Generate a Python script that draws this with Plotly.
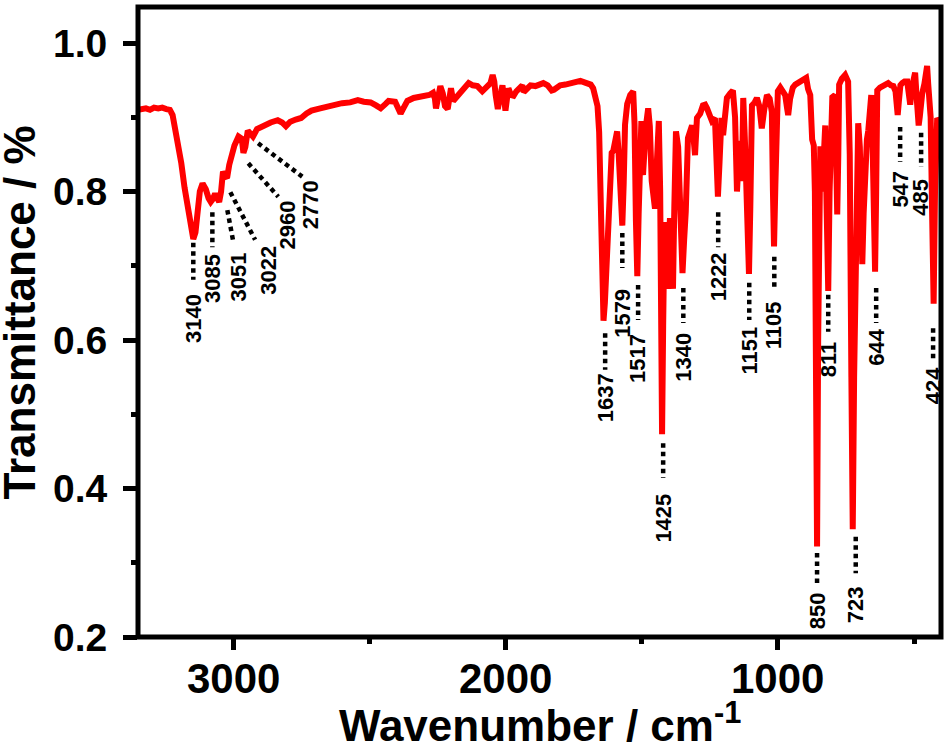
import plotly.graph_objects as go

# ---------------- spectrum (wavenumber in cm-1, transmittance) ----------------
wavenumber = [
    3349, 3335, 3320, 3305, 3290, 3275, 3260, 3245, 3232, 3222, 3212, 3200, 3190, 3178, 3166,
    3155, 3146, 3138, 3130, 3122, 3112, 3100, 3090, 3082, 3074, 3066, 3058, 3051, 3044, 3037,
    3030, 3022, 3014, 3006, 2995, 2980, 2968, 2962, 2955, 2946, 2936, 2927, 2912, 2888, 2862,
    2836, 2820, 2806, 2790, 2770, 2750, 2730, 2712, 2680, 2640, 2600, 2570, 2542, 2520, 2495,
    2475, 2458, 2440, 2429, 2405, 2393, 2385, 2375, 2360, 2337, 2300, 2280, 2266, 2259, 2255,
    2249, 2239, 2230, 2222, 2212, 2205, 2200, 2192, 2180, 2165, 2150, 2135, 2120, 2103, 2085,
    2068, 2055, 2047, 2041, 2036, 2028, 2020, 2011, 2005, 2000, 1994, 1989, 1980, 1970, 1960,
    1950, 1938, 1933, 1920, 1908, 1890, 1875, 1861, 1845, 1830, 1822, 1810, 1799, 1780, 1760,
    1740, 1725, 1710, 1695, 1687, 1678, 1670, 1662, 1656, 1650, 1645, 1640, 1635, 1630, 1625,
    1620, 1615, 1610, 1604, 1597, 1590, 1585, 1580, 1575, 1571, 1566, 1561, 1553, 1542, 1531,
    1526, 1521, 1516, 1511, 1505, 1501, 1495, 1490, 1484, 1476, 1470, 1463, 1457, 1451, 1444,
    1437, 1432, 1428, 1425, 1421, 1416, 1410, 1407, 1402, 1396, 1390, 1385, 1380, 1374, 1366,
    1360, 1355, 1350, 1344, 1338, 1330, 1322, 1315, 1309, 1304, 1297, 1285, 1275, 1267, 1260,
    1250, 1242, 1231, 1226, 1220, 1214, 1207, 1201, 1194, 1187, 1175, 1165, 1157, 1150, 1143,
    1136, 1132, 1127, 1120, 1113, 1106, 1101, 1095, 1085, 1077, 1068, 1059, 1050, 1040, 1030,
    1022, 1018, 1014, 1009, 1004, 1000, 991, 982, 973, 966, 962, 955, 945, 936, 918,
    905, 896, 889, 881, 874, 868, 864, 860, 856, 852, 847, 844, 840, 836, 831,
    826, 821, 815, 810, 805, 800, 790, 786, 782, 778, 775, 765, 753, 742, 736,
    730, 725, 720, 713, 705, 699, 694, 690, 685, 679, 673, 668, 662, 657, 652,
    646, 643, 639, 635, 625, 613, 595, 585, 576, 568, 563, 560, 556, 550, 543,
    535, 525, 519, 514, 508, 500, 496, 491, 486, 483, 479, 474, 470, 462, 456,
    452, 448, 444, 439, 434, 428, 423, 418, 415, 410, 404,
]
transmittance = [
    0.910, 0.911, 0.912, 0.910, 0.913, 0.912, 0.913, 0.911, 0.910, 0.903, 0.885, 0.862, 0.838, 0.805, 0.775,
    0.748, 0.736, 0.745, 0.772, 0.800, 0.811, 0.803, 0.791, 0.786, 0.790, 0.797, 0.791, 0.786, 0.800, 0.827,
    0.821, 0.818, 0.836, 0.849, 0.862, 0.874, 0.871, 0.852, 0.860, 0.882, 0.879, 0.874, 0.884, 0.889, 0.893,
    0.896, 0.893, 0.888, 0.894, 0.897, 0.899, 0.905, 0.909, 0.912, 0.916, 0.919, 0.920, 0.923, 0.921, 0.920,
    0.916, 0.912, 0.918, 0.922, 0.921, 0.913, 0.905, 0.912, 0.922, 0.926, 0.928, 0.930, 0.933, 0.925, 0.912,
    0.928, 0.942, 0.932, 0.915, 0.911, 0.932, 0.939, 0.922, 0.927, 0.933, 0.940, 0.946, 0.943, 0.942, 0.935,
    0.942, 0.946, 0.957, 0.948, 0.930, 0.911, 0.928, 0.943, 0.925, 0.909, 0.926, 0.939, 0.930, 0.929, 0.935,
    0.940, 0.943, 0.934, 0.940, 0.943, 0.942, 0.944, 0.946, 0.943, 0.936, 0.937, 0.940, 0.943, 0.944, 0.946,
    0.947, 0.949, 0.947, 0.946, 0.944, 0.939, 0.930, 0.915, 0.880, 0.760, 0.660, 0.626, 0.650, 0.700, 0.750,
    0.805, 0.845, 0.852, 0.855, 0.870, 0.881, 0.855, 0.800, 0.760, 0.754, 0.810, 0.890, 0.918, 0.930, 0.935,
    0.890, 0.760, 0.686, 0.770, 0.880, 0.895, 0.822, 0.862, 0.889, 0.912, 0.888, 0.814, 0.795, 0.777, 0.840,
    0.895, 0.800, 0.600, 0.473, 0.620, 0.759, 0.700, 0.669, 0.720, 0.764, 0.720, 0.669, 0.780, 0.881, 0.860,
    0.808, 0.740, 0.690, 0.735, 0.773, 0.872, 0.880, 0.889, 0.870, 0.849, 0.899, 0.905, 0.916, 0.917, 0.912,
    0.900, 0.895, 0.899, 0.850, 0.793, 0.840, 0.899, 0.876, 0.915, 0.926, 0.932, 0.936, 0.900, 0.800, 0.850,
    0.868, 0.814, 0.926, 0.860, 0.740, 0.689, 0.780, 0.916, 0.920, 0.926, 0.915, 0.885, 0.910, 0.930, 0.925,
    0.907, 0.800, 0.726, 0.810, 0.920, 0.935, 0.940, 0.935, 0.930, 0.912, 0.903, 0.925, 0.940, 0.944, 0.948,
    0.951, 0.953, 0.938, 0.930, 0.870, 0.862, 0.800, 0.600, 0.322, 0.600, 0.800, 0.861, 0.820, 0.800, 0.850,
    0.889, 0.780, 0.666, 0.800, 0.900, 0.927, 0.930, 0.850, 0.769, 0.850, 0.944, 0.952, 0.957, 0.948, 0.850,
    0.550, 0.345, 0.550, 0.800, 0.892, 0.860, 0.780, 0.702, 0.770, 0.842, 0.870, 0.882, 0.910, 0.930, 0.860,
    0.750, 0.692, 0.800, 0.936, 0.940, 0.943, 0.946, 0.943, 0.942, 0.935, 0.910, 0.903, 0.920, 0.943, 0.946,
    0.948, 0.948, 0.930, 0.917, 0.940, 0.955, 0.960, 0.930, 0.895, 0.889, 0.900, 0.920, 0.932, 0.945, 0.962,
    0.969, 0.945, 0.930, 0.900, 0.780, 0.649, 0.800, 0.880, 0.899, 0.896, 0.894,
]

# ---------------- axis ticks ----------------
x_major = [3000, 2000, 1000]
x_major_text = ["3000", "2000", "1000"]
x_minor = [2500, 1500, 500]
y_major = [0.2, 0.4, 0.6, 0.8, 1.0]
y_major_text = ["0.2", "0.4", "0.6", "0.8", "1.0"]
y_minor = [0.3, 0.5, 0.7, 0.9]

# ---------------- peak annotations ----------------
peak_labels = ["3140", "3085", "3051", "3022", "2960", "2770",
               "1637", "1579", "1517", "1425", "1340", "1222", "1151", "1105",
               "850", "811", "723", "644", "547", "485", "424"]
# dotted leader: start (wn, T) -> end (wn, T)
lead_wn0 = [3146, 3076, 3021, 3010, 2944, 2908,
            1634, 1571, 1513, 1421, 1347, 1219, 1105, 1013,
            856, 815, 714, 639, 551, 474, 430]
lead_t0 = [0.731, 0.772, 0.775, 0.799, 0.838, 0.865,
           0.609, 0.744, 0.674, 0.461, 0.670, 0.772, 0.677, 0.712,
           0.313, 0.661, 0.335, 0.670, 0.887, 0.879, 0.616]
lead_wn1 = [3146, 3076, 2999, 2919, 2834, 2746,
            1634, 1571, 1513, 1421, 1347, 1219, 1105, 1013,
            856, 815, 714, 639, 551, 474, 430]
lead_t1 = [0.681, 0.725, 0.732, 0.735, 0.793, 0.820,
           0.560, 0.697, 0.627, 0.414, 0.623, 0.725, 0.627, 0.667,
           0.270, 0.611, 0.286, 0.623, 0.840, 0.833, 0.570]
# label anchor (wn, T at top of the rotated text)
label_wn = [3146, 3076, 2981, 2871, 2801, 2717,
            1634, 1571, 1513, 1421, 1347, 1219, 1105, 1013,
            856, 815, 714, 639, 551, 474, 430]
label_t = [0.663, 0.717, 0.719, 0.728, 0.789, 0.816,
           0.556, 0.670, 0.609, 0.394, 0.611, 0.719, 0.620, 0.654,
           0.261, 0.600, 0.270, 0.616, 0.829, 0.818, 0.564]

FONT = "Liberation Sans, Arial, sans-serif"

fig = go.Figure()
fig.add_trace(go.Scatter(
    x=wavenumber, y=transmittance, mode="lines",
    line=dict(color="#ff0000", width=6), showlegend=False, hoverinfo="skip",
))

shapes = []
for i in range(len(peak_labels)):
    shapes.append(dict(type="line", xref="x", yref="y",
                       x0=lead_wn0[i], y0=lead_t0[i], x1=lead_wn1[i], y1=lead_t1[i],
                       line=dict(color="black", width=4.5, dash="4.5px,4px")))
# thick frame
shapes.append(dict(type="rect", xref="paper", yref="paper", x0=0, y0=0, x1=1, y1=1,
                   line=dict(color="black", width=5), layer="above"))

annotations = []
for i, lab in enumerate(peak_labels):
    annotations.append(dict(x=label_wn[i], y=label_t[i], xref="x", yref="y",
                            text=lab, showarrow=False, textangle=-90,
                            xanchor="center", yanchor="top", borderpad=0,
                            font=dict(family=FONT, size=22, color="black", weight="bold")))
# x tick labels
for v, t in zip(x_major, x_major_text):
    annotations.append(dict(x=v, y=-0.066, xref="x", yref="paper", text=t, showarrow=False,
                            xanchor="center", yanchor="middle",
                            font=dict(family=FONT, size=42, color="black", weight="bold")))
annotations.append(dict(x=0.5, y=-0.135, xref="paper", yref="paper",
                        text="Wavenumber / cm<sup>-1</sup>", showarrow=False,
                        xanchor="center", yanchor="middle",
                        font=dict(family=FONT, size=44, color="black", weight="bold")))
annotations.append(dict(x=-0.147, y=0.515, xref="paper", yref="paper",
                        text="Transmittance / %", showarrow=False, textangle=-90,
                        xanchor="center", yanchor="middle",
                        font=dict(family=FONT, size=44, color="black", weight="bold")))

fig.update_layout(
    width=947, height=746,
    margin=dict(l=138, r=6, t=7, b=109, pad=0),
    paper_bgcolor="white", plot_bgcolor="white",
    shapes=shapes, annotations=annotations,
    xaxis=dict(range=[3349, 401], showgrid=False, zeroline=False, showline=False,
               tickmode="array", tickvals=x_major, showticklabels=False,
               ticks="outside", ticklen=12, tickwidth=5, tickcolor="black",
               minor=dict(ticks="outside", ticklen=6, tickwidth=5, tickcolor="black",
                          tickmode="array", tickvals=x_minor)),
    yaxis=dict(range=[0.2, 1.0485], showgrid=False, zeroline=False, showline=False,
               tickmode="array", tickvals=y_major, ticktext=y_major_text,
               ticks="outside", ticklen=14, tickwidth=5, tickcolor="black",
               minor=dict(ticks="outside", ticklen=6, tickwidth=5, tickcolor="black",
                          tickmode="array", tickvals=y_minor),
               tickfont=dict(family=FONT, size=39, color="black", weight="bold"),
               ticklabelstandoff=8),
)

fig.write_html("out.html", config={"displayModeBar": False},
               post_script="document.body.style.margin='0px';")
